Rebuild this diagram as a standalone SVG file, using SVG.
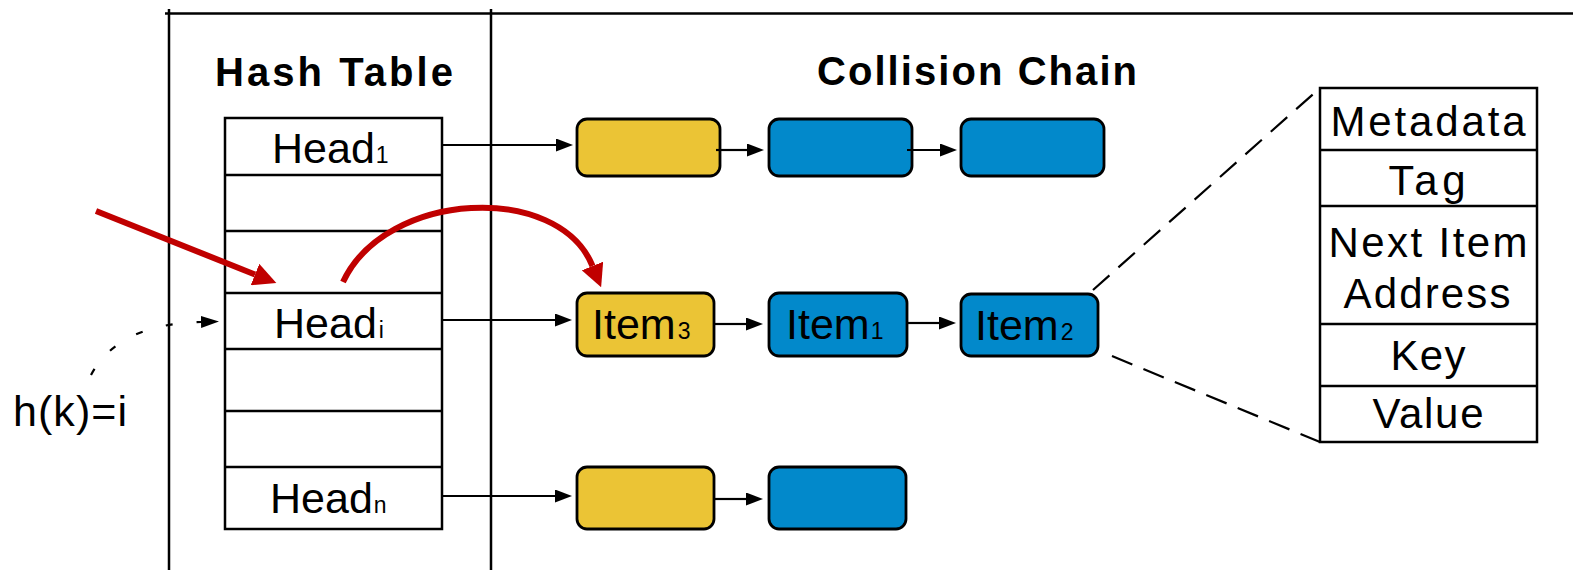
<svg xmlns="http://www.w3.org/2000/svg" width="1573" height="570" viewBox="0 0 1573 570">
<defs>
<style>
.frame{stroke:#000;stroke-width:2.5;fill:none}
.tbl{stroke:#000;stroke-width:2.5;fill:#fff}
.sep{stroke:#000;stroke-width:2.5}
.lbl{font-family:"Liberation Sans",Arial,sans-serif;font-size:43px;fill:#000}
.sub{font-size:23px}
.title{font-family:"Liberation Sans",Arial,sans-serif;font-size:40px;font-weight:bold;fill:#000}
.fld{font-family:"Liberation Sans",Arial,sans-serif;font-size:42px;fill:#000;text-anchor:middle}
.yel{fill:#EBC435;stroke:#000;stroke-width:2.8}
.blu{fill:#0289CB;stroke:#000;stroke-width:2.8}
.conn{stroke:#000;stroke-width:2.2;fill:none;marker-end:url(#ah)}
.dash{stroke:#000;stroke-width:2.2;fill:none;stroke-dasharray:22 12}
.red{stroke:#C00000;stroke-width:6;fill:none;marker-end:url(#rah)}
</style>
<marker id="ah" markerUnits="userSpaceOnUse" markerWidth="17" markerHeight="13" refX="0" refY="6.5" orient="auto">
<path d="M0,0 L17,6.5 L0,13 z" fill="#000"/>
</marker>
<marker id="ahs" markerUnits="userSpaceOnUse" markerWidth="18" markerHeight="12" refX="0" refY="6" orient="auto">
<path d="M0,0 L18,6 L0,12 z" fill="#000"/>
</marker>
<marker id="rah" markerUnits="userSpaceOnUse" markerWidth="23" markerHeight="23" refX="0" refY="11.5" orient="auto">
<path d="M0,0 L23,11.5 L0,23 z" fill="#C00000"/>
</marker>
</defs>
<rect width="1573" height="570" fill="#fff"/>
<g id="frame">
<line class="frame" x1="165" y1="13.5" x2="1573" y2="13.5"/>
<line class="frame" x1="169" y1="9" x2="169" y2="570"/>
<line class="frame" x1="491" y1="9" x2="491" y2="570"/>
<text class="title" x="215" y="86" textLength="238" lengthAdjust="spacing">Hash Table</text>
<text class="title" x="817" y="85" textLength="320" lengthAdjust="spacing">Collision Chain</text>
</g>
<g id="hash-table">
<rect class="tbl" x="225" y="118" width="217" height="411"/>
<line class="sep" x1="225" y1="175" x2="442" y2="175"/>
<line class="sep" x1="225" y1="231" x2="442" y2="231"/>
<line class="sep" x1="225" y1="293" x2="442" y2="293"/>
<line class="sep" x1="225" y1="349" x2="442" y2="349"/>
<line class="sep" x1="225" y1="411" x2="442" y2="411"/>
<line class="sep" x1="225" y1="467" x2="442" y2="467"/>
<text class="lbl" x="272" y="163">Head<tspan class="sub" dx="1">1</tspan></text>
<text class="lbl" x="274" y="338">Head<tspan class="sub" dx="2">i</tspan></text>
<text class="lbl" x="270" y="513">Head<tspan class="sub" dx="1">n</tspan></text>
</g>
<g id="hk">
<text class="lbl" x="13" y="426" textLength="114" lengthAdjust="spacing">h(k)=i</text>
</g>
<g id="chain1">
<rect class="yel" x="577" y="119" width="143" height="57" rx="10"/>
<rect class="blu" x="769" y="119" width="143" height="57" rx="10"/>
<rect class="blu" x="961" y="119" width="143" height="57" rx="10"/>
</g>
<g id="chain2">
<rect id="item3" class="yel" x="577" y="293" width="137" height="63" rx="10"/>
<rect id="item1" class="blu" x="769" y="293" width="138" height="63" rx="10"/>
<rect id="item2" class="blu" x="961" y="294" width="137" height="62" rx="10"/>
<text class="lbl" x="592" y="339">Item<tspan class="sub" dx="2">3</tspan></text>
<text class="lbl" x="786" y="339">Item<tspan class="sub" dx="1">1</tspan></text>
<text class="lbl" x="975" y="340">Item<tspan class="sub" dx="2">2</tspan></text>
</g>
<g id="chain3">
<rect class="yel" x="577" y="467" width="137" height="62" rx="10"/>
<rect class="blu" x="769" y="467" width="137" height="62" rx="10"/>
</g>
<g id="item-layout">
<rect class="tbl" x="1320" y="88" width="217" height="354"/>
<line class="sep" x1="1320" y1="150" x2="1537" y2="150"/>
<line class="sep" x1="1320" y1="206" x2="1537" y2="206"/>
<line class="sep" x1="1320" y1="324" x2="1537" y2="324"/>
<line class="sep" x1="1320" y1="386" x2="1537" y2="386"/>
<text class="fld" x="1428" y="136" textLength="195" lengthAdjust="spacing">Metadata</text>
<text class="fld" x="1427" y="195" textLength="77" lengthAdjust="spacing">Tag</text>
<text class="fld" x="1428" y="257" textLength="199" lengthAdjust="spacing">Next Item</text>
<text class="fld" x="1427" y="308" textLength="167" lengthAdjust="spacing">Address</text>
<text class="fld" x="1428" y="370" textLength="75" lengthAdjust="spacing">Key</text>
<text class="fld" x="1428" y="428" textLength="111" lengthAdjust="spacing">Value</text>
</g>
<g id="connectors">
<line class="conn" x1="442" y1="145" x2="556" y2="145"/>
<line class="conn" x1="716" y1="150" x2="747" y2="150"/>
<line class="conn" x1="907" y1="150" x2="940" y2="150"/>
<line class="conn" x1="442" y1="320" x2="555" y2="320"/>
<line class="conn" x1="714" y1="324" x2="746" y2="324"/>
<line class="conn" x1="907" y1="323" x2="939" y2="323"/>
<line class="conn" x1="442" y1="496" x2="555" y2="496"/>
<line class="conn" x1="714" y1="499" x2="746" y2="499"/>
<path d="M91,375 Q118,324 201,322" stroke="#000" stroke-width="2.2" fill="none" stroke-dasharray="7 24" marker-end="url(#ahs)"/>
<line class="dash" x1="1093" y1="290" x2="1320" y2="88"/>
<line class="dash" x1="1112" y1="356" x2="1320" y2="442"/>
<line class="red" x1="96" y1="211" x2="255" y2="274.5"/>
<path class="red" d="M343,282 C386,190 558.5,182 592.5,266"/>
</g>
</svg>
